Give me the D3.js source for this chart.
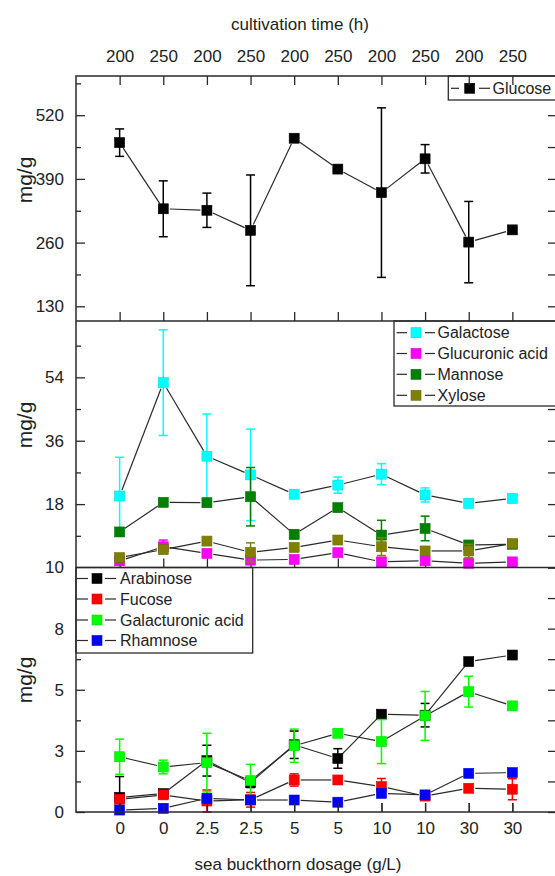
<!DOCTYPE html>
<html>
<head>
<meta charset="utf-8">
<script src="https://cdn.jsdelivr.net/npm/d3@7"></script>
<style>
  html, body { margin: 0; padding: 0; background: #fff; }
  svg { display: block; }
  text { font-family: "Liberation Sans", Arial, sans-serif; fill: #222; }
</style>
</head>
<body>
<svg id="chart" width="555" height="876"></svg>
<script>
// ---- data -------------------------------------------------------------
const dosageLabels = ["0", "0", "2.5", "2.5", "5", "5", "10", "10", "30", "30"];
const timeLabels   = ["200", "250", "200", "250", "200", "250", "200", "250", "200", "250"];

// panel 1 (mg/g)
const glucose       = [464, 329, 326, 285, 473, 410, 362, 431, 261, 286];
const glucoseErr    = [28, 57, 35, 113, 0, 0, 173, 29, 83, 0];

// panel 2 (mg/g)
const galactose        = [20.3, 52.5, 31.6, 26.3, 20.8, 23.4, 26.5, 20.6, 18.2, 19.6];
const galactoseErr     = [11, 15, 12, 13, 0, 2.3, 3, 2, 0, 0];
const glucuronicAcid   = [1.9, 5.9, 4.0, 2.1, 2.3, 4.2, 1.6, 1.9, 1.2, 1.6];
const glucuronicErr    = [0.5, 1.9, 0, 1.2, 0, 0, 0, 0, 0, 0];
const mannose          = [10.1, 18.5, 18.4, 20.1, 9.4, 17.0, 9.2, 11.1, 6.4, 6.6];
const mannoseErr       = [1.0, 0, 0, 8.3, 1.2, 0, 4.2, 3.5, 1.0, 0.8];
const xylose           = [2.8, 5.1, 7.5, 4.3, 5.7, 7.8, 5.9, 4.7, 4.7, 6.8];
const xyloseErr        = [0, 0, 0, 2.7, 0, 0, 2.5, 0, 1.9, 0];

// panel 3 (mg/g)
const arabinose        = [0.6, 0.75, 2.1, 1.2, 2.75, 2.19, 4.0, 3.96, 6.15, 6.42];
const arabinoseErr     = [0.85, 0.15, 0.63, 0.2, 0.56, 0.4, 0, 0.48, 0, 0];
const fucose           = [0.52, 0.70, 0.45, 0.5, 1.31, 1.31, 1.04, 0.65, 0.97, 0.93];
const fucoseErr        = [0, 0, 0.45, 0.3, 0.25, 0, 0.33, 0, 0, 0.43];
const galacturonicAcid = [2.26, 1.84, 2.02, 1.28, 2.71, 3.22, 2.88, 3.93, 4.92, 4.34];
const galacturonicErr  = [0.72, 0.28, 1.2, 0.67, 0.68, 0, 0.9, 1.0, 0.63, 0];
const rhamnose         = [0.08, 0.15, 0.56, 0.49, 0.49, 0.4, 0.76, 0.70, 1.58, 1.61];
const rhamnoseErr      = [0, 0, 0, 0, 0, 0, 0, 0, 0, 0];

// axis ticks
const p1Major = [130, 260, 390, 520], p1Minor = [195, 325, 455, 585];
const p2Major = [0, 18, 36, 54],      p2Minor = [9, 27, 45, 63];
const p2Labels = ["", "18", "36", "54"];
const p3Major = [0, 2.5, 5, 7.5, 10], p3Minor = [1.25, 3.75, 6.25, 8.75];
const p3Labels = ["0", "3", "5", "8", "10"];

// ---- layout -----------------------------------------------------------
const svg = d3.select("#chart");
const left = 76, right = 556;
const frameColor = "#2a2a2a";
const x = d3.scaleLinear().domain([-1, 10]).range([left, right]);
const idx = d3.range(dosageLabels.length);

const panels = [
  { y: d3.scaleLinear().domain([100, 600]).range([321, 76]),
    major: p1Major, minor: p1Minor, labels: p1Major.map(String), titleY: 180,
    series: [{ name: "Glucose", v: glucose, e: glucoseErr, c: "#000000" }],
    legend: { x0: 448.3, y0: 76, y1: 100, rowY: [88.3], l1: [451, 459], mk: 469.7, l2: [479, 490], tx: 492.5 } },
  { y: d3.scaleLinear().domain([0, 70]).range([567.5, 321]),
    major: p2Major, minor: p2Minor, labels: p2Labels, titleY: 425,
    series: [
      { name: "Galactose", v: galactose, e: galactoseErr, c: "#00ffff" },
      { name: "Glucuronic acid", v: glucuronicAcid, e: glucuronicErr, c: "#ff00ff" },
      { name: "Mannose", v: mannose, e: mannoseErr, c: "#008000" },
      { name: "Xylose", v: xylose, e: xyloseErr, c: "#808000" }],
    legend: { x0: 394, y0: 321, y1: 406, rowY: [332.7, 353.5, 374.3, 395.3], l1: [396.5, 407], mk: 416, l2: [425, 435], tx: 437.5 } },
  { y: d3.scaleLinear().domain([0, 10]).range([812, 567.5]),
    major: p3Major, minor: p3Minor, labels: p3Labels, titleY: 680,
    series: [
      { name: "Arabinose", v: arabinose, e: arabinoseErr, c: "#000000" },
      { name: "Fucose", v: fucose, e: fucoseErr, c: "#ff0000" },
      { name: "Galacturonic acid", v: galacturonicAcid, e: galacturonicErr, c: "#00ff00" },
      { name: "Rhamnose", v: rhamnose, e: rhamnoseErr, c: "#0000ff" }],
    legend: { x0: 76, y0: 567.5, y1: 653, rowY: [578.5, 599, 620, 640.5], l1: [76.5, 88], mk: 97, l2: [105, 116], tx: 120 } }
];

const tickFont = 17;

panels.forEach((p, pi) => {
  const g = svg.append("g");
  const [yBot, yTop] = p.y.range();

  // left axis: major ticks with labels, minor ticks, all pointing inward
  const leftMajor = g.append("g").attr("transform", `translate(${left},0)`)
    .call(d3.axisLeft(p.y).tickValues(p.major).tickSizeInner(-9).tickSizeOuter(0).tickPadding(12)
      .tickFormat((d, i) => p.labels[i]));
  g.append("g").attr("transform", `translate(${left},0)`)
    .call(d3.axisLeft(p.y).tickValues(p.minor).tickSizeInner(-5).tickSizeOuter(0).tickFormat(""));
  // right axis ticks
  g.append("g").attr("transform", `translate(${right},0)`)
    .call(d3.axisRight(p.y).tickValues(p.major.concat(p.minor)).tickSizeInner(-8).tickSizeOuter(0).tickFormat(""));
  // bottom ticks of the panel
  g.append("g").attr("transform", `translate(0,${yBot})`)
    .call(d3.axisBottom(x).tickValues(idx).tickSizeInner(-9).tickSizeOuter(0).tickFormat(""));

  g.selectAll(".domain").remove();
  g.selectAll(".tick line").attr("stroke", frameColor).attr("stroke-width", 1.3);
  leftMajor.selectAll("text").attr("font-size", tickFont)
    .style("font-family", '"Liberation Sans", Arial, sans-serif').attr("fill", "#222");

  // y title
  svg.append("text")
    .attr("transform", `translate(24,${p.titleY}) rotate(-90)`)
    .attr("text-anchor", "middle").attr("dominant-baseline", "central")
    .attr("font-size", 21).text("mg/g");

  // series: connecting lines (gapped at symbols), error bars, symbols
  const gap = 6.5;
  p.series.forEach(s => {
    const sg = g.append("g");
    const pts = idx.map(i => [x(i), p.y(s.v[i])]);
    for (let i = 0; i < pts.length - 1; i++) {
      const [x1, y1] = pts[i], [x2, y2] = pts[i + 1];
      const len = Math.hypot(x2 - x1, y2 - y1);
      if (len <= 2 * gap) continue;
      const ux = (x2 - x1) / len, uy = (y2 - y1) / len;
      sg.append("line")
        .attr("x1", x1 + ux * gap).attr("y1", y1 + uy * gap)
        .attr("x2", x2 - ux * gap).attr("y2", y2 - uy * gap)
        .attr("stroke", "#2b2b2b").attr("stroke-width", 1.2);
    }
    idx.forEach(i => {
      if (!s.e[i]) return;
      const cx = x(i), yt = p.y(s.v[i] + s.e[i]), yb = p.y(Math.max(s.v[i] - s.e[i], p.y.domain()[0]));
      const lo = s.v[i] - s.e[i];
      sg.append("line").attr("x1", cx).attr("x2", cx).attr("y1", yt).attr("y2", p.y(Math.max(lo, p.y.domain()[0])))
        .attr("stroke", s.c).attr("stroke-width", 1.5);
      sg.append("line").attr("x1", cx - 4.5).attr("x2", cx + 4.5).attr("y1", yt).attr("y2", yt)
        .attr("stroke", s.c).attr("stroke-width", 1.5);
      if (lo >= p.y.domain()[0]) {
        sg.append("line").attr("x1", cx - 4.5).attr("x2", cx + 4.5).attr("y1", yb).attr("y2", yb)
          .attr("stroke", s.c).attr("stroke-width", 1.5);
      }
    });
    sg.selectAll("rect.sym").data(idx).join("rect").attr("class", "sym")
      .attr("x", i => x(i) - 5).attr("y", i => p.y(s.v[i]) - 5)
      .attr("width", 10).attr("height", 10)
      .attr("fill", s.c).attr("stroke", d3.color(s.c).darker(0.4)).attr("stroke-width", 0.6);
  });

  // legend
  const L = p.legend;
  svg.append("rect").attr("x", L.x0).attr("y", L.y0).attr("width", right + 4 - L.x0 + (pi === 2 ? 0 : 0))
    .attr("height", L.y1 - L.y0)
    .attr("width", pi === 2 ? 252.7 - L.x0 : right + 4 - L.x0)
    .attr("fill", "#fff").attr("stroke", frameColor).attr("stroke-width", 1.3);
  p.series.forEach((s, k) => {
    const ry = L.rowY[k];
    svg.append("line").attr("x1", L.l1[0]).attr("x2", L.l1[1]).attr("y1", ry).attr("y2", ry)
      .attr("stroke", "#2b2b2b").attr("stroke-width", 1.2);
    svg.append("line").attr("x1", L.l2[0]).attr("x2", L.l2[1]).attr("y1", ry).attr("y2", ry)
      .attr("stroke", "#2b2b2b").attr("stroke-width", 1.2);
    svg.append("rect").attr("x", L.mk - 5).attr("y", ry - 5).attr("width", 10).attr("height", 10)
      .attr("fill", s.c).attr("stroke", d3.color(s.c).darker(0.4)).attr("stroke-width", 0.6);
    svg.append("text").attr("x", L.tx).attr("y", ry).attr("dominant-baseline", "central")
      .attr("font-size", 16).attr("fill", "#222").text(s.name);
  });
});

// top axis (cultivation time) on panel 1
const yTopFrame = panels[0].y.range()[1];
const topAxis = svg.append("g").attr("transform", `translate(0,${yTopFrame})`)
  .call(d3.axisTop(x).tickValues(idx).tickSizeInner(-9).tickSizeOuter(0).tickPadding(14)
    .tickFormat(i => timeLabels[i]));
// bottom axis (dosage) on panel 3
const yBotFrame = panels[2].y.range()[0];
const botAxis = svg.append("g").attr("transform", `translate(0,${yBotFrame})`)
  .call(d3.axisBottom(x).tickValues(idx).tickSizeInner(-9).tickSizeOuter(0).tickPadding(10)
    .tickFormat(i => dosageLabels[i]));
[topAxis, botAxis].forEach(a => {
  a.selectAll(".domain").remove();
  a.selectAll(".tick line").attr("stroke", frameColor).attr("stroke-width", 1.3);
  a.selectAll("text").attr("font-size", tickFont)
    .style("font-family", '"Liberation Sans", Arial, sans-serif').attr("fill", "#222");
});

// frame: outer box and panel separators
const frame = svg.append("g").attr("stroke", frameColor).attr("stroke-width", 1.5).attr("fill", "none");
frame.append("rect").attr("x", left).attr("y", yTopFrame).attr("width", right - left).attr("height", yBotFrame - yTopFrame);
[panels[0].y.range()[0], panels[1].y.range()[0]].forEach(yy =>
  frame.append("line").attr("x1", left).attr("x2", right).attr("y1", yy).attr("y2", yy));

// axis titles
svg.append("text").attr("x", 300).attr("y", 24).attr("text-anchor", "middle")
  .attr("dominant-baseline", "central").attr("font-size", 17).text("cultivation time (h)");
svg.append("text").attr("x", 298).attr("y", 864).attr("text-anchor", "middle")
  .attr("dominant-baseline", "central").attr("font-size", 17).text("sea buckthorn dosage (g/L)");
</script>
</body>
</html>
